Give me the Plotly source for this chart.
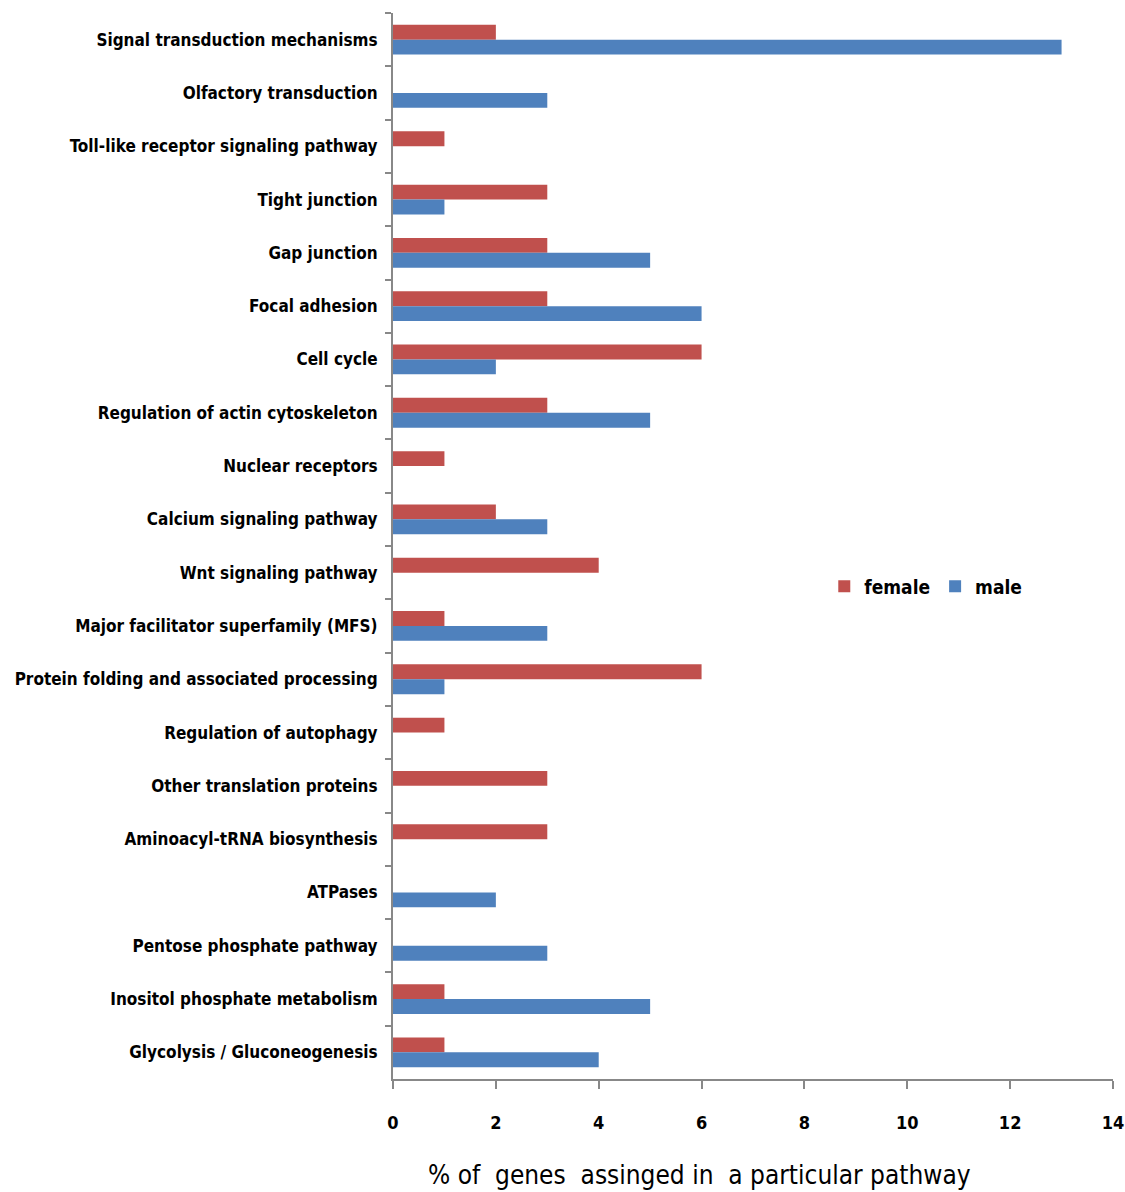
import plotly.graph_objects as go

categories = [
    "Signal transduction mechanisms",
    "Olfactory transduction",
    "Toll-like receptor signaling pathway",
    "Tight junction",
    "Gap junction",
    "Focal adhesion",
    "Cell cycle",
    "Regulation of actin cytoskeleton",
    "Nuclear receptors",
    "Calcium signaling pathway",
    "Wnt signaling pathway",
    "Major facilitator superfamily (MFS)",
    "Protein folding and associated processing",
    "Regulation of autophagy",
    "Other translation proteins",
    "Aminoacyl-tRNA biosynthesis",
    "ATPases",
    "Pentose phosphate pathway",
    "Inositol phosphate metabolism",
    "Glycolysis / Gluconeogenesis",
]
female = [2, 0, 1, 3, 3, 3, 6, 3, 1, 2, 4, 1, 6, 1, 3, 3, 0, 0, 1, 1]
male = [13, 3, 0, 1, 5, 6, 2, 5, 0, 3, 0, 3, 1, 0, 0, 0, 2, 3, 5, 4]
x_ticks = [0, 2, 4, 6, 8, 10, 12, 14]
x_title = "% of  genes  assinged in  a particular pathway"

FONT = "DejaVu Sans Condensed, Liberation Sans Narrow, sans-serif"

fig = go.Figure()
fig.add_trace(go.Bar(y=categories, x=female, name="female", orientation="h",
                     marker=dict(color="#C0504D", line=dict(width=0))))
fig.add_trace(go.Bar(y=categories, x=male, name="male", orientation="h",
                     marker=dict(color="#4F81BD", line=dict(width=0))))

fig.update_layout(
    width=1125, height=1192,
    margin=dict(l=393, r=12, t=13, b=113),
    paper_bgcolor="white", plot_bgcolor="white",
    barmode="group", bargap=0.44, bargroupgap=0,
    font=dict(family=FONT, size=17, color="black"),
    legend=dict(orientation="h", x=0.599, y=0.462, xanchor="left", yanchor="middle",
                font=dict(family=FONT, size=19, color="black", weight="bold"),
                bgcolor="rgba(0,0,0,0)", itemwidth=30, tracegroupgap=0),
    showlegend=True,
    annotations=[dict(text=x_title, xref="paper", yref="paper", x=0.426, y=-0.09,
                      xanchor="center", yanchor="middle", showarrow=False,
                      font=dict(family=FONT, size=26, color="black"))],
)
fig.update_xaxes(
    range=[0, 14], tickvals=x_ticks, ticktext=[str(v) for v in x_ticks],
    showgrid=False, zeroline=False, automargin=False,
    showline=True, linecolor="#888888", linewidth=2,
    ticks="outside", ticklen=8, tickcolor="#888888", tickwidth=2,
    tickfont=dict(family=FONT, size=18, color="black", weight="bold"),
    ticklabelstandoff=18,
)
fig.update_yaxes(
    autorange="reversed", type="category",
    showgrid=False, zeroline=False, automargin=False,
    showline=True, linecolor="#888888", linewidth=2,
    ticks="outside", ticklen=6, tickcolor="#888888", tickwidth=2,
    tickson="boundaries",
    tickfont=dict(family=FONT, size=17, color="black", weight="bold"),
    ticklabelstandoff=10,
)

fig.write_html(
    "out.html",
    config={"displayModeBar": False},
    post_script="document.body.style.margin='0';document.body.style.overflow='hidden';",
)
